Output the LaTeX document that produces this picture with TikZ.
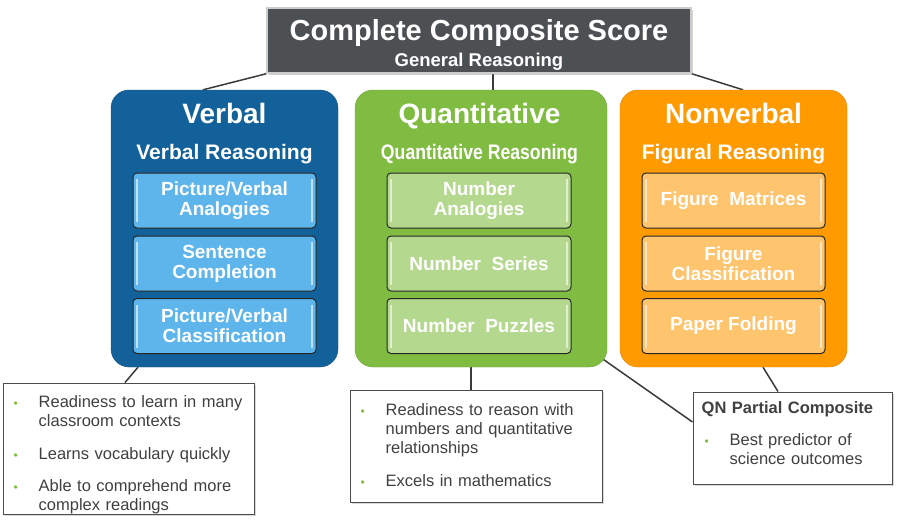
\documentclass[tikz,border=0pt]{standalone}
\usepackage{fontspec}
\setmainfont{Liberation Sans}
\usepackage{graphicx}
\usetikzlibrary{positioning,calc,shadows,backgrounds}
\definecolor{cdark}{HTML}{4D5053}
\definecolor{cblue}{HTML}{13619A}
\definecolor{cbluel}{HTML}{5DB5EB}
\definecolor{cgreen}{HTML}{80BC41}
\definecolor{cgreenl}{HTML}{B4D88E}
\definecolor{corange}{HTML}{FF9A00}
\definecolor{corangel}{HTML}{FFC46E}
\definecolor{ctext}{HTML}{404040}
\definecolor{cwire}{HTML}{3A3A3A}
\newcommand{\fsz}[2]{\fontsize{#1}{#2}\selectfont}
\newcommand{\bul}[2][0pt]{\par\noindent\hspace*{#1}\makebox[25pt][l]{\textcolor{cgreen}{\fsz{12}{12}\textbullet}}%
  \begin{tabular}[t]{@{}l@{}}#2\end{tabular}\par\vspace{13pt}}
\tikzset{
  % dark score banner on top
  scorebox/.style = {rectangle, fill=cdark, draw=black!20, line width=1.5pt, text=white,
                     minimum width=424pt, minimum height=65pt,
                     drop shadow={shadow xshift=2pt, shadow yshift=-2pt, opacity=.35}},
  % one battery panel
  grp/.style      = {rectangle, rounded corners=18pt, fill=#1, draw=#1!85!black,
                     minimum height=277pt},
  hd/.style       = {text=white, font=\bfseries\fsz{28}{30}, inner sep=0pt},
  shd/.style      = {text=white, font=\bfseries\fsz{21}{23}, inner sep=0pt},
  % glossy subtest tile
  sub/.style      = {rectangle, rounded corners=4pt, draw=black!85, line width=1pt, fill=#1,
                     text=white, font=\bfseries\fsz{19}{20}, align=center,
                     minimum height=55pt,
                     path picture={
                       \draw[white, opacity=.6, line width=1.6pt]
                         ([xshift=4pt,yshift=-6pt]path picture bounding box.north west) --
                         ([xshift=4pt,yshift=6pt]path picture bounding box.south west);
                       \draw[white, opacity=.6, line width=1.6pt]
                         ([xshift=-4pt,yshift=-6pt]path picture bounding box.north east) --
                         ([xshift=-4pt,yshift=6pt]path picture bounding box.south east);}},
  notebox/.style  = {rectangle, draw=black!70, line width=1pt, fill=white,
                     drop shadow={shadow xshift=2pt, shadow yshift=-2pt, opacity=.3}},
  notetxt/.style  = {inner sep=0pt, text=ctext, font=\fsz{16.5}{19}, text width=230pt, align=left},
  wire/.style     = {cwire, line width=1.5pt},
}

\begin{document}
\begin{tikzpicture}[x=1pt,y=-1pt]
\useasboundingbox (0,0) rectangle (900,522);
% banner
\node[scorebox] (comp) at (479,40.5) {};
\node[hd, font=\bfseries\fsz{29}{30}, anchor=base] (compT) at (479,40) {Complete Composite Score};
\node[text=white, font=\bfseries\fsz{18.5}{20}, inner sep=0pt, anchor=base] (compS) at (479,66) {General Reasoning};
% panels
\node[grp=cblue, minimum width=227pt] (verb) at (224.5,228.5) {};
\node[grp=cgreen, minimum width=252pt] (quant) at (481,228.5) {};
\node[grp=corange, minimum width=227pt] (nonv) at (733.5,228.5) {};
\node[hd, anchor=base] (verbT) at (224.5,123) {Verbal};
\node[hd, anchor=base] (quantT) at (479.5,123) {Quantitative};
\node[hd, anchor=base] (nonvT) at (733.5,123) {Nonverbal};
\node[shd, anchor=base] (verbS) at (224.5,159) {Verbal Reasoning};
\node[shd, anchor=base] (quantS) at (479.5,159) {\scalebox{0.84}[1]{Quantitative Reasoning}};
\node[shd, anchor=base] (nonvS) at (733.5,159) {Figural Reasoning};
% subtests
\node[sub=cbluel, minimum width=183pt] (verbA) at (224.5,200.5) {Picture/Verbal\\Analogies};
\node[sub=cbluel, minimum width=183pt] (verbB) at (224.5,263.5) {Sentence\\Completion};
\node[sub=cbluel, minimum width=183pt] (verbC) at (224.5,326) {Picture/Verbal\\Classification};
\node[sub=cgreenl, minimum width=184pt] (quantA) at (479,200.5) {Number\\Analogies};
\node[sub=cgreenl, minimum width=184pt] (quantB) at (479,263.5) {Number~ Series};
\node[sub=cgreenl, minimum width=184pt] (quantC) at (479,326) {Number~ Puzzles};
\node[sub=corangel, minimum width=183pt] (nonvA) at (733.5,200.5) {Figure~ Matrices};
\node[sub=corangel, minimum width=183pt] (nonvB) at (733.5,263.5) {Figure\\Classification};
\node[sub=corangel, minimum width=183pt] (nonvC) at (733.5,326) {Paper Folding};
% notes
\node[notebox, minimum width=251pt, minimum height=131pt] (notesV) at (128.5,448.5) {};
\node[notebox, minimum width=252pt, minimum height=112pt] (notesQ) at (476,446) {};
\node[notebox, minimum width=199pt, minimum height=92pt] (notesQN) at (792.5,438) {};
\node[notetxt, anchor=north west] (notesVtxt) at ([shift={(11pt,-6pt)}]notesV.north west)
  {\bul{Readiness to learn in many\\classroom contexts}\bul{Learns vocabulary quickly}\bul{Able to comprehend more\\complex readings}};
\node[notetxt, anchor=north west] (notesQtxt) at ([shift={(11pt,-7pt)}]notesQ.north west)
  {\bul{Readiness to reason with\\numbers and quantitative\\relationships}\bul{Excels in mathematics}};
\node[notetxt, anchor=north west] (notesQNtxt) at ([shift={(9pt,-8pt)}]notesQN.north west)
  {\noindent\begin{tabular}[t]{@{}l@{}}\bfseries QN Partial Composite\end{tabular}\par\vspace{13pt}%
   \bul[3pt]{Best predictor of\\science outcomes}};
% connectors
\begin{scope}[on background layer]
\draw[wire] (comp.south west) -- ([xshift=-21.5pt]verb.north);
\draw[wire] ([xshift=14pt]comp.south) -- ([xshift=14pt]comp.south |- quant.north);
\draw[wire] (comp.south east) -- ([xshift=9.5pt]nonv.north);
\draw[wire] ([xshift=-86.5pt]verb.south) -- ([xshift=-3.5pt]notesV.north);
\draw[wire] ([xshift=-10pt]quant.south) -- ([xshift=-10pt]quant.south |- notesQ.north);
\draw[wire] ([xshift=29.5pt]nonv.south) -- ([xshift=-14.5pt]notesQN.north);
\draw[wire] ([xshift=-7pt,yshift=10pt]quant.south east) -- ([yshift=16pt]notesQN.west);
\end{scope}
\end{tikzpicture}
\end{document}
